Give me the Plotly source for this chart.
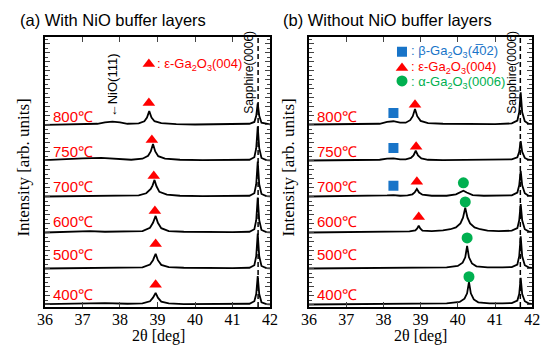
import plotly.graph_objects as go

# ---------------- data ----------------
temps = ["400℃", "500℃", "600℃", "700℃", "750℃", "800℃"]
offsets = [0, 1, 2, 3, 4, 5]

# Panel (a): with NiO buffer layers
a_x = {
    "800℃": [36.0, 36.8, 37.4, 37.6, 37.8, 38.0, 38.2, 38.5, 38.65, 38.72, 38.78, 38.84, 38.92, 39.1, 39.5, 40.0, 41.0, 41.45, 41.58, 41.63, 41.67, 41.71, 41.77, 41.9, 42.0],
    "750℃": [36.0, 36.5, 37.0, 37.5, 37.9, 38.3, 38.6, 38.75, 38.82, 38.88, 38.94, 39.02, 39.2, 39.6, 40.2, 41.0, 41.45, 41.58, 41.63, 41.67, 41.71, 41.77, 41.9, 42.0],
    "700℃": [36.0, 37.0, 38.0, 38.5, 38.7, 38.82, 38.87, 38.92, 38.97, 39.05, 39.25, 39.6, 40.2, 41.0, 41.45, 41.58, 41.63, 41.67, 41.71, 41.77, 41.9, 42.0],
    "600℃": [36.0, 36.8, 37.2, 37.6, 38.2, 38.6, 38.8, 38.88, 38.95, 39.01, 39.1, 39.3, 39.7, 40.3, 41.0, 41.45, 41.58, 41.63, 41.67, 41.71, 41.77, 41.9, 42.0],
    "500℃": [36.0, 36.8, 37.2, 37.6, 38.2, 38.6, 38.8, 38.88, 38.95, 39.01, 39.1, 39.3, 39.7, 40.3, 41.0, 41.45, 41.58, 41.63, 41.67, 41.71, 41.77, 41.9, 42.0],
    "400℃": [36.0, 36.8, 37.2, 37.6, 38.2, 38.6, 38.8, 38.88, 38.95, 39.01, 39.1, 39.3, 39.7, 40.3, 41.0, 41.45, 41.58, 41.63, 41.67, 41.71, 41.77, 41.9, 42.0],
}
a_y = {
    "800℃": [0.0, 0.01, 0.03, 0.07, 0.09, 0.07, 0.03, 0.04, 0.1, 0.2, 0.38, 0.2, 0.1, 0.05, 0.02, 0.01, 0.01, 0.03, 0.08, 0.25, 0.6, 0.25, 0.06, 0.02, 0.01],
    "750℃": [0.02, 0.05, 0.07, 0.08, 0.06, 0.03, 0.06, 0.14, 0.26, 0.47, 0.26, 0.13, 0.06, 0.03, 0.02, 0.02, 0.03, 0.1, 0.35, 0.95, 0.35, 0.08, 0.02, 0.01],
    "700℃": [0.01, 0.02, 0.02, 0.04, 0.1, 0.22, 0.32, 0.47, 0.3, 0.14, 0.06, 0.03, 0.02, 0.02, 0.03, 0.1, 0.35, 0.98, 0.35, 0.08, 0.02, 0.01],
    "600℃": [0.01, 0.03, 0.05, 0.03, 0.03, 0.05, 0.14, 0.28, 0.47, 0.28, 0.13, 0.05, 0.03, 0.02, 0.02, 0.03, 0.1, 0.35, 0.98, 0.35, 0.08, 0.02, 0.01],
    "500℃": [0.01, 0.02, 0.02, 0.02, 0.02, 0.04, 0.12, 0.24, 0.42, 0.24, 0.11, 0.05, 0.03, 0.02, 0.02, 0.03, 0.1, 0.35, 0.98, 0.35, 0.08, 0.02, 0.01],
    "400℃": [0.02, 0.04, 0.06, 0.05, 0.03, 0.04, 0.1, 0.2, 0.33, 0.2, 0.09, 0.04, 0.02, 0.02, 0.02, 0.03, 0.1, 0.3, 0.8, 0.3, 0.07, 0.02, 0.01],
}

# Panel (b): without NiO buffer layers
b_x = {
    "800℃": [36.0, 37.0, 37.9, 38.1, 38.27, 38.45, 38.6, 38.72, 38.79, 38.85, 38.91, 39.0, 39.2, 39.6, 40.2, 41.0, 41.45, 41.6, 41.65, 41.69, 41.73, 41.8, 41.9, 42.0],
    "750℃": [36.0, 37.0, 37.9, 38.1, 38.27, 38.45, 38.6, 38.74, 38.81, 38.87, 38.93, 39.02, 39.2, 39.6, 40.2, 41.0, 41.45, 41.6, 41.65, 41.69, 41.73, 41.8, 41.9, 42.0],
    "700℃": [36.0, 37.0, 37.9, 38.1, 38.27, 38.45, 38.65, 38.78, 38.84, 38.9, 38.96, 39.05, 39.3, 39.7, 39.95, 40.07, 40.15, 40.24, 40.4, 40.7, 41.0, 41.45, 41.6, 41.65, 41.69, 41.73, 41.8, 41.9, 42.0],
    "600℃": [36.0, 37.0, 38.0, 38.7, 38.86, 38.91, 38.95, 38.99, 39.05, 39.3, 39.6, 39.8, 39.95, 40.07, 40.14, 40.2, 40.26, 40.33, 40.45, 40.6, 40.8, 41.1, 41.45, 41.6, 41.65, 41.69, 41.73, 41.8, 41.9, 42.0],
    "500℃": [36.0, 37.0, 38.0, 39.0, 39.7, 40.0, 40.13, 40.2, 40.25, 40.3, 40.38, 40.5, 40.8, 41.2, 41.45, 41.6, 41.65, 41.69, 41.73, 41.8, 41.9, 42.0],
    "400℃": [36.0, 37.0, 38.0, 39.0, 39.7, 40.05, 40.18, 40.25, 40.3, 40.35, 40.43, 40.55, 40.85, 41.2, 41.45, 41.6, 41.65, 41.69, 41.73, 41.8, 41.9, 42.0],
}
b_y = {
    "800℃": [0.01, 0.02, 0.03, 0.08, 0.1, 0.06, 0.06, 0.13, 0.24, 0.44, 0.24, 0.11, 0.05, 0.03, 0.02, 0.02, 0.04, 0.12, 0.35, 0.9, 0.35, 0.1, 0.03, 0.02],
    "750℃": [0.01, 0.02, 0.03, 0.06, 0.07, 0.04, 0.04, 0.08, 0.15, 0.28, 0.15, 0.07, 0.03, 0.02, 0.02, 0.02, 0.04, 0.1, 0.25, 0.55, 0.25, 0.08, 0.03, 0.02],
    "700℃": [0.01, 0.02, 0.02, 0.04, 0.05, 0.03, 0.04, 0.07, 0.12, 0.22, 0.12, 0.06, 0.03, 0.03, 0.07, 0.13, 0.17, 0.12, 0.05, 0.03, 0.03, 0.04, 0.12, 0.32, 0.72, 0.32, 0.1, 0.03, 0.02],
    "600℃": [0.01, 0.02, 0.03, 0.04, 0.07, 0.12, 0.2, 0.12, 0.06, 0.05, 0.07, 0.1, 0.15, 0.26, 0.42, 0.7, 0.42, 0.26, 0.15, 0.1, 0.06, 0.05, 0.06, 0.13, 0.35, 0.8, 0.35, 0.1, 0.04, 0.02],
    "500℃": [0.01, 0.02, 0.02, 0.03, 0.04, 0.08, 0.17, 0.32, 0.64, 0.32, 0.15, 0.07, 0.04, 0.04, 0.05, 0.12, 0.35, 0.9, 0.35, 0.1, 0.04, 0.02],
    "400℃": [0.01, 0.02, 0.02, 0.02, 0.04, 0.08, 0.17, 0.32, 0.64, 0.32, 0.15, 0.07, 0.04, 0.04, 0.05, 0.12, 0.3, 0.75, 0.3, 0.1, 0.04, 0.02],
}

# Peak markers (x in deg, y in stacked-intensity units)
a_tri_x = [38.95, 38.95, 38.93, 38.9, 38.85, 38.77]
a_tri_y = [0.56, 1.69, 2.61, 3.58, 4.58, 5.61]

b_sq_x = [38.27, 38.27, 38.27]
b_sq_y = [3.31, 4.36, 5.33]
b_tri_x = [38.95, 38.9, 38.88, 38.85]
b_tri_y = [2.44, 3.42, 4.39, 5.56]
b_cir_x = [40.3, 40.25, 40.2, 40.15]
b_cir_y = [0.78, 1.86, 2.86, 3.39]

label_y = [0.28, 1.39, 2.32, 3.3, 4.25, 5.22]
sapphire_pos = 41.68
x_ticks = [36, 37, 38, 39, 40, 41, 42]

RED = "#ff0000"
BLUE = "#1874c8"
GREEN = "#00b050"
SERIF = "Liberation Serif"
SANS = "Liberation Sans"

# ---------------- figure ----------------
fig = go.Figure()

for t, off in zip(temps, offsets):
    fig.add_trace(go.Scatter(x=a_x[t], y=[v + off for v in a_y[t]], mode="lines",
                             line=dict(color="black", width=1.8), xaxis="x", yaxis="y",
                             showlegend=False, hoverinfo="skip"))
    fig.add_trace(go.Scatter(x=b_x[t], y=[v + off for v in b_y[t]], mode="lines",
                             line=dict(color="black", width=1.8), xaxis="x2", yaxis="y2",
                             showlegend=False, hoverinfo="skip"))

def markers(x, y, sym, col, ax, ay, size=11):
    fig.add_trace(go.Scatter(x=x, y=y, mode="markers", xaxis=ax, yaxis=ay,
                             marker=dict(symbol=sym, color=col, size=size, line=dict(width=0)),
                             showlegend=False, hoverinfo="skip"))

markers(a_tri_x, a_tri_y, "triangle-up", RED, "x", "y")
markers(b_sq_x, b_sq_y, "square", BLUE, "x2", "y2", 10)
markers(b_tri_x, b_tri_y, "triangle-up", RED, "x2", "y2")
markers(b_cir_x, b_cir_y, "circle", GREEN, "x2", "y2")

# legend symbols
markers([38.77], [6.69], "triangle-up", RED, "x", "y")
markers([38.5], [7.03], "square", BLUE, "x2", "y2", 10)
markers([38.5], [6.58], "triangle-up", RED, "x2", "y2")
markers([38.5], [6.22], "circle", GREEN, "x2", "y2")

ann = []
def text(x, y, s, xref, yref, size, color="black", family=SANS, xanchor="left", angle=0):
    ann.append(dict(x=x, y=y, text=s, xref=xref, yref=yref, showarrow=False,
                    font=dict(size=size, color=color, family=family),
                    xanchor=xanchor, yanchor="middle", textangle=angle))

text(38.93, 6.69, ": ε-Ga<sub>2</sub>O<sub>3</sub>(004)", "x", "y", 13, RED)
text(38.68, 7.03, ": β-Ga<sub>2</sub>O<sub>3</sub>(4\u030502)", "x2", "y2", 13, BLUE)
text(38.68, 6.58, ": ε-Ga<sub>2</sub>O<sub>3</sub>(004)", "x2", "y2", 13, RED)
text(38.68, 6.18, ": α-Ga<sub>2</sub>O<sub>3</sub>(0006)", "x2", "y2", 13, GREEN)

for t, ly in zip(temps, label_y):
    text(36.15, ly, t, "x", "y", 15, RED)
    text(36.15, ly, t, "x2", "y2", 15, RED)

text(41.43, 6.47, "Sapphire(0006)", "x", "y", 12, xanchor="center", angle=-90)
text(41.45, 6.47, "Sapphire(0006)", "x2", "y2", 12, xanchor="center", angle=-90)
text(37.79, 6.1, "←NiO(111)", "x", "y", 13, xanchor="center", angle=-90)

ann.append(dict(x=10 / 548, y=1 - 20 / 345, xref="paper", yref="paper", showarrow=False,
                text="(a) With NiO buffer layers", xanchor="left", yanchor="middle",
                font=dict(size=16.5, color="black", family=SANS)))
ann.append(dict(x=281 / 548, y=1 - 20 / 345, xref="paper", yref="paper", showarrow=False,
                text="(b) Without NiO buffer layers", xanchor="left", yanchor="middle",
                font=dict(size=16.5, color="black", family=SANS)))
for xp in (15 / 548, 288 / 548):
    ann.append(dict(x=xp, y=1 - 168 / 345, xref="paper", yref="paper", showarrow=False,
                    text="Intensity [arb. units]", textangle=-90, xanchor="center", yanchor="middle",
                    font=dict(size=17, color="black", family=SERIF)))
for xp in (155 / 548, 425 / 548):
    ann.append(dict(x=xp, y=1 - 336 / 345, xref="paper", yref="paper", showarrow=False,
                    text="2θ [deg]", xanchor="center", yanchor="middle",
                    font=dict(size=16, color="black", family=SERIF)))

shapes = []
for xr, yr in (("x", "y domain"), ("x2", "y2 domain")):
    shapes.append(dict(type="line", xref=xr, yref=yr, x0=sapphire_pos, x1=sapphire_pos, y0=0, y1=1,
                       line=dict(color="black", width=1.5, dash="5px,3px")))

yrange = [-0.06, 7.44]
xax = dict(range=[36, 42], tickvals=x_ticks, ticks="inside", ticklen=5, tickwidth=1,
           mirror="ticks", showline=True, linecolor="black", linewidth=1.5, showgrid=False,
           zeroline=False, ticklabelstandoff=-3,
           tickfont=dict(family=SERIF, size=16, color="black"))
yax = dict(range=yrange, dtick=0.25, tick0=0, ticks="inside", ticklen=5, tickwidth=1,
           mirror="ticks", showline=True, linecolor="black", linewidth=1.5, showgrid=False,
           zeroline=False, showticklabels=False,
           minor=dict(dtick=0.125, ticks="inside", ticklen=3, tickwidth=1, showgrid=False))

ydom = [1 - 307 / 345, 1 - 37 / 345]
fig.update_layout(
    width=548, height=345, margin=dict(l=0, r=0, t=0, b=0), autosize=False,
    paper_bgcolor="white", plot_bgcolor="white",
    xaxis=dict(xax, domain=[38 / 548, 270 / 548], anchor="y"),
    yaxis=dict(yax, domain=ydom, anchor="x"),
    xaxis2=dict(xax, domain=[310 / 548, 540 / 548], anchor="y2"),
    yaxis2=dict(yax, domain=ydom, anchor="x2"),
    annotations=ann, shapes=shapes,
)

fig.write_html(
    "out.html",
    config={"responsive": False, "displayModeBar": False},
    default_width="548px", default_height="345px",
    post_script="document.body.style.margin='0px';document.body.style.padding='0px';"
                "document.documentElement.style.overflow='hidden';document.body.style.overflow='hidden';",
)
